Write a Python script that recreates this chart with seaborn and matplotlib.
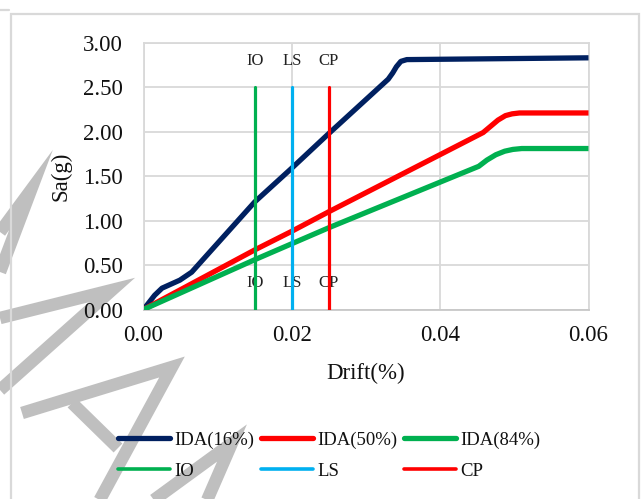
import matplotlib
matplotlib.use("Agg")
import matplotlib.pyplot as plt
from matplotlib.lines import Line2D
from matplotlib.patches import Rectangle
import seaborn as sns
import pandas as pd

# ---------------- data ----------------
drift_16 = [0, 0.0015, 0.0025, 0.0049, 0.0065, 0.015, 0.020, 0.025, 0.0330,
            0.0336, 0.0341, 0.0347, 0.0355, 0.060]
sa_16 = [0, 0.16, 0.24, 0.33, 0.42, 1.21, 1.59, 1.98, 2.59,
         2.66, 2.73, 2.79, 2.81, 2.83]

drift_50 = [0, 0.015, 0.020, 0.025, 0.0458, 0.0468, 0.0478, 0.0488, 0.0497, 0.0507, 0.060]
sa_50 = [0, 0.67, 0.88, 1.10, 1.99, 2.06, 2.13, 2.18, 2.20, 2.21, 2.21]

drift_84 = [0, 0.015, 0.020, 0.025, 0.0452, 0.0463, 0.0475, 0.0487, 0.0498, 0.0510, 0.060]
sa_84 = [0, 0.56, 0.74, 0.92, 1.61, 1.68, 1.74, 1.78, 1.80, 1.81, 1.81]

limit_names = ["IO", "LS", "CP"]
limit_drift = [0.015, 0.020, 0.025]
limit_sa = [0, 2.5]

x_ticks = [0.00, 0.02, 0.04, 0.06]
x_tick_labels = ["0.00", "0.02", "0.04", "0.06"]
y_ticks = [0.0, 0.5, 1.0, 1.5, 2.0, 2.5, 3.0]
y_tick_labels = ["0.00", "0.50", "1.00", "1.50", "2.00", "2.50", "3.00"]

ida_names = ["IDA(16%)", "IDA(50%)", "IDA(84%)"]
ida_colors = ["#002060", "#FF0000", "#00B050"]
limit_colors = ["#00B050", "#00B0F0", "#FF0000"]

# ---------------- style ----------------
sns.set_theme(style="white")
plt.rcParams["font.family"] = ["Liberation Serif", "DejaVu Serif"]

W, H = 641, 499
fig = plt.figure(figsize=(W / 100, H / 100), dpi=100)
fig.patch.set_facecolor("white")

ax_l, ax_r, ax_t, ax_b = 143.5, 588.5, 42.7, 309.5
ax = fig.add_axes([ax_l / W, 1 - ax_b / H, (ax_r - ax_l) / W, (ax_b - ax_t) / H])
ax.set_facecolor("none")

# watermark (grey strokes behind the chart)
wm = [
    [(0, 232), (31, 190), (0, 272)],
    [(0, 318), (112, 290), (0, 390)],
    [(22, 413), (172, 367), (97, 505)],
    [(72, 403), (118, 448)],
    [(147, 505), (232, 443), (205, 505)],
]
for pts in wm:
    xs = [p[0] / W for p in pts]
    ys = [1 - p[1] / H for p in pts]
    fig.add_artist(Line2D(xs, ys, color="#BFBFBF", lw=9, solid_joinstyle="miter",
                          solid_capstyle="butt", zorder=-2, transform=fig.transFigure))

# chart frame
fig.add_artist(Rectangle((11 / W, -0.05), (639 - 11) / W, 1 - 14 / H + 0.05,
                         fill=False, edgecolor="#D9D9D9", lw=1.6,
                         transform=fig.transFigure, zorder=-1))
fig.add_artist(Line2D([0, 9 / W], [1 - 10 / H, 1 - 10 / H], color="#D9D9D9", lw=1.6,
                      transform=fig.transFigure, zorder=-1))

# IDA curves
handles = {}
for name, dx, sy, col in zip(ida_names, [drift_16, drift_50, drift_84],
                             [sa_16, sa_50, sa_84], ida_colors):
    df = pd.DataFrame({"Drift": dx, "Sa": sy})
    sns.lineplot(data=df, x="Drift", y="Sa", ax=ax, color=col, lw=3.8,
                 estimator=None, sort=False, zorder=3,
                 solid_joinstyle="round", solid_capstyle="butt")
    handles[name] = Line2D([], [], color=col, lw=3.8, solid_capstyle="round")

# performance limit lines
for name, d, col in zip(limit_names, limit_drift, limit_colors):
    df = pd.DataFrame({"Drift": [d, d], "Sa": limit_sa})
    sns.lineplot(data=df, x="Drift", y="Sa", ax=ax, color=col, lw=2.3,
                 estimator=None, sort=False, zorder=4)
    handles[name] = Line2D([], [], color=col, lw=2.6, solid_capstyle="round")
    ax.text(d, 2.79, name, ha="center", va="center", fontsize=12, color="#222222")
    ax.text(d, 0.30, name, ha="center", va="center", fontsize=12, color="#222222")

ax.set_xlim(0, 0.06)
ax.set_ylim(0, 3.0)
ax.set_xticks(x_ticks)
ax.set_xticklabels(x_tick_labels)
ax.set_yticks(y_ticks)
ax.set_yticklabels(y_tick_labels)
ax.tick_params(axis="x", length=0, pad=11, labelsize=16.5, colors="#111111")
ax.tick_params(axis="y", length=0, pad=15, labelsize=16.5, colors="#111111")
ax.grid(True, color="#D9D9D9", lw=1.3)
ax.set_axisbelow(True)
for s in ax.spines.values():
    s.set_color("#D9D9D9")
    s.set_linewidth(1.3)
ax.spines["bottom"].set_color("#C8C8C8")

ax.set_xlabel("Drift(%)", fontsize=16.5, color="#111111")
ax.set_ylabel("Sa(g)", fontsize=16.5, color="#111111")
ax.xaxis.label.set_va("center")
ax.yaxis.label.set_va("center")
ax.xaxis.set_label_coords(0.5, -(373 - ax_b) / (ax_b - ax_t))
ax.yaxis.set_label_coords((61 - ax_l) / (ax_r - ax_l), 0.5)

order = ["IDA(16%)", "IO", "IDA(50%)", "LS", "IDA(84%)", "CP"]
leg = fig.legend([handles[n] for n in order], order, ncol=3,
                 loc="center", bbox_to_anchor=(329 / W, 1 - 455.5 / H),
                 frameon=False, fontsize=13.5, handlelength=2.8,
                 handletextpad=0.2, columnspacing=0.35, labelspacing=0.75,
                 borderpad=0, borderaxespad=0)
for t in leg.get_texts():
    t.set_color("#111111")

fig.savefig("out.png", dpi=100, facecolor="white")
